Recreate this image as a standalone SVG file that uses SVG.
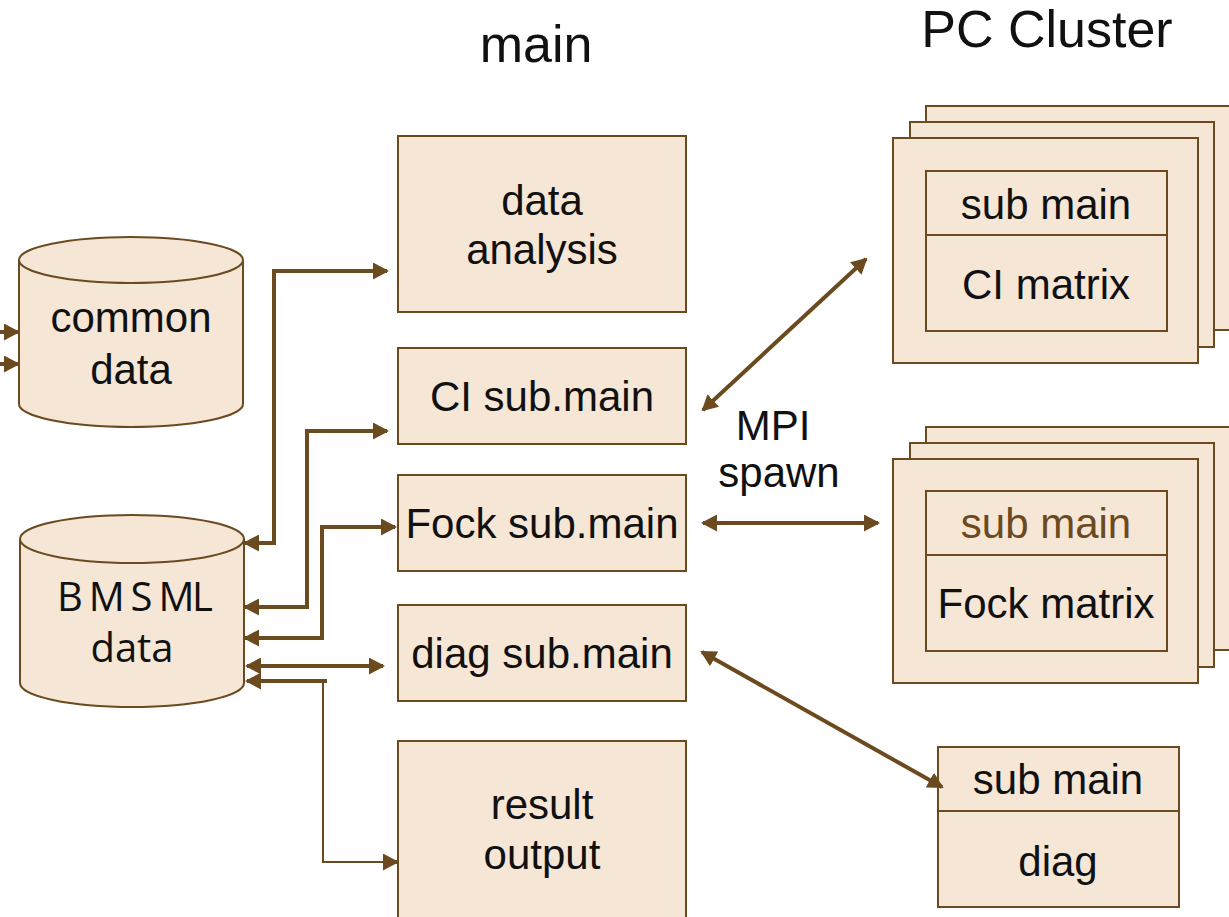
<svg xmlns="http://www.w3.org/2000/svg" width="1229" height="917" viewBox="0 0 1229 917">
  <style>
    .box { fill: #f5e6d5; stroke: #6b4a1f; stroke-width: 2; }
    .lbl { font-family: "Liberation Sans", Arial, sans-serif; font-size: 42px; fill: #111; text-anchor: middle; }
    .lbl2 { font-family: "Open Sans", "Liberation Sans", sans-serif; font-size: 40px; fill: #111; text-anchor: middle; }
    .title { font-family: "Liberation Sans", Arial, sans-serif; font-size: 52px; fill: #111; text-anchor: middle; }
    .wire { fill: none; stroke: #6b4a1f; stroke-width: 4; }
    .thin { fill: none; stroke: #6b4a1f; stroke-width: 2; }
  </style>
  <defs>
    <marker id="ah" viewBox="0 0 16 17" refX="14" refY="8.5" markerWidth="16" markerHeight="17" markerUnits="userSpaceOnUse" orient="auto-start-reverse">
      <path d="M0,0 L16,8.5 L0,17 z" fill="#6b4a1f"/>
    </marker>
  </defs>

  <rect width="1229" height="917" fill="#ffffff"/>

  <!-- headings -->
  <text class="title" x="536" y="62">main</text>
  <text class="title" x="1047" y="47">PC Cluster</text>

  <!-- data stores -->
  <g id="common-data">
    <path class="box" d="M19,260 V404 A112,23 0 0 0 243,404 V260"/>
    <ellipse class="box" cx="131" cy="260" rx="112" ry="23"/>
    <text class="lbl" x="131" y="332">common</text>
    <text class="lbl" x="131" y="384">data</text>
  </g>
  <g id="bmsml-data">
    <path class="box" d="M20,539 V683 A112,24 0 0 0 244,683 V539"/>
    <ellipse class="box" cx="132" cy="539" rx="112" ry="24"/>
    <text class="lbl2" x="135" y="611" textLength="156" lengthAdjust="spacing">B M S ML</text>
    <text class="lbl2" x="132" y="662">data</text>
  </g>

  <!-- main program modules -->
  <g id="data-analysis">
    <rect class="box" x="398" y="136" width="288" height="176"/>
    <text class="lbl" x="542" y="215">data</text>
    <text class="lbl" x="542" y="264">analysis</text>
  </g>
  <g id="ci-sub-main">
    <rect class="box" x="398" y="348" width="288" height="96"/>
    <text class="lbl" x="542" y="411">CI sub.main</text>
  </g>
  <g id="fock-sub-main">
    <rect class="box" x="398" y="475" width="288" height="96"/>
    <text class="lbl" x="542" y="538">Fock sub.main</text>
  </g>
  <g id="diag-sub-main">
    <rect class="box" x="398" y="605" width="288" height="96"/>
    <text class="lbl" x="542" y="668">diag sub.main</text>
  </g>
  <g id="result-output">
    <rect class="box" x="398" y="741" width="288" height="190"/>
    <text class="lbl" x="542" y="819">result</text>
    <text class="lbl" x="542" y="869">output</text>
  </g>

  <!-- cluster workers: CI matrix -->
  <g id="ci-worker">
    <rect class="box" x="926" y="106" width="310" height="224"/>
    <rect class="box" x="910" y="122" width="304" height="225"/>
    <rect class="box" x="893" y="138" width="305" height="225"/>
    <rect class="box" x="926" y="171" width="241" height="160"/>
    <line class="thin" x1="926" y1="235" x2="1167" y2="235"/>
    <text class="lbl" x="1046" y="219">sub main</text>
    <text class="lbl" x="1046" y="299">CI matrix</text>
  </g>

  <!-- cluster workers: Fock matrix -->
  <g id="fock-worker">
    <rect class="box" x="926" y="427" width="310" height="223"/>
    <rect class="box" x="910" y="443" width="304" height="224"/>
    <rect class="box" x="893" y="459" width="305" height="224"/>
    <rect class="box" x="926" y="491" width="241" height="160"/>
    <line class="thin" x1="926" y1="555" x2="1167" y2="555"/>
    <text class="lbl" x="1046" y="538" style="fill:#6b4a1f">sub main</text>
    <text class="lbl" x="1046" y="618">Fock matrix</text>
  </g>

  <!-- diag worker -->
  <g id="diag-worker">
    <rect class="box" x="938" y="747" width="241" height="160"/>
    <line class="thin" x1="938" y1="811" x2="1179" y2="811"/>
    <text class="lbl" x="1058" y="794">sub main</text>
    <text class="lbl" x="1058" y="876">diag</text>
  </g>

  <g id="mpi-label">
    <text class="lbl" x="773" y="440">MPI</text>
    <text class="lbl" x="779" y="487">spawn</text>
  </g>

  <!-- connectors -->
  <g id="connectors">
    <!-- inputs to common data -->
    <line class="wire" x1="0" y1="332" x2="18" y2="332" marker-end="url(#ah)"/>
    <line class="wire" x1="0" y1="364" x2="18" y2="364" marker-end="url(#ah)"/>

    <!-- BMSML data <-> main modules -->
    <path class="wire" d="M245,543 H274 V271 H387" marker-start="url(#ah)" marker-end="url(#ah)"/>
    <path class="wire" d="M245,607 H307 V431 H387" marker-start="url(#ah)" marker-end="url(#ah)"/>
    <path class="wire" d="M245,638 H322 V527 H395" marker-start="url(#ah)" marker-end="url(#ah)"/>
    <line class="wire" x1="247" y1="666" x2="383" y2="666" marker-start="url(#ah)" marker-end="url(#ah)"/>
    <line class="wire" x1="247" y1="681" x2="327" y2="681" marker-start="url(#ah)"/>
    <path class="thin" d="M323,681 V862 H386"/>
    <line class="wire" x1="386" y1="862" x2="397" y2="862" marker-end="url(#ah)"/>

    <!-- MPI spawn links -->
    <line class="wire" x1="703" y1="410" x2="866" y2="259" marker-start="url(#ah)" marker-end="url(#ah)"/>
    <line class="wire" x1="703" y1="523" x2="878" y2="523" marker-start="url(#ah)" marker-end="url(#ah)"/>
    <line class="wire" x1="702" y1="652" x2="942" y2="787" marker-start="url(#ah)" marker-end="url(#ah)"/>
  </g>
</svg>
